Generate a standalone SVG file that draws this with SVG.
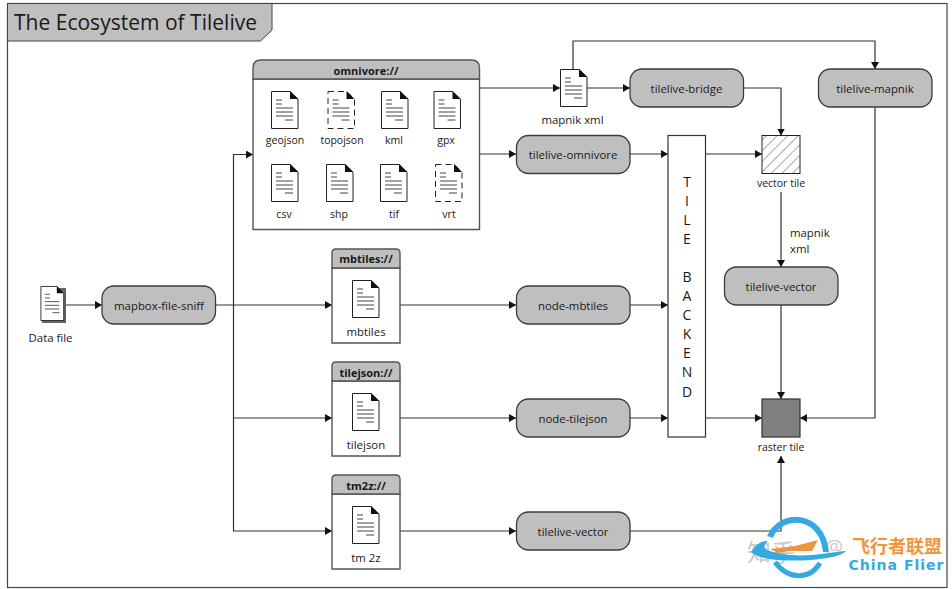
<svg xmlns="http://www.w3.org/2000/svg" width="952" height="589" viewBox="0 0 952 589">
<style>
text{font-family:"Open Sans","Noto Sans","DejaVu Sans",sans-serif;font-size:11.4px;fill:#1a1a1a;text-anchor:middle;dominant-baseline:central}
.head{font-weight:700;font-size:11px}
.sm{font-size:10.5px}
.bk{font-size:14px}
.proc{fill:#bfbfbf;stroke:#3c3c3c;stroke-width:1.3}
.box{fill:#fff;stroke:#555;stroke-width:1.4}
.hd{fill:#bfbfbf;stroke:#555;stroke-width:1.4}
.c{fill:none;stroke:#333;stroke-width:1.2;marker-end:url(#a)}
.pl{fill:none;stroke:#444;stroke-width:1}
</style>
<defs>
<marker id="a" markerUnits="userSpaceOnUse" markerWidth="8" markerHeight="8" refX="7" refY="4" orient="auto"><path d="M0 0L7 4L0 8Z" fill="#111"/></marker>
<pattern id="h" patternUnits="userSpaceOnUse" width="7.500" height="7.500" patternTransform="rotate(45)"><rect width="7.500" height="7.500" fill="#fff"/><path d="M0 0V7.500" stroke="#666" stroke-width="1.100"/></pattern>
<g id="lines"><path class="pl" d="M5 9H11M5 13H11M5 17H22M5 21H22M5 25H22M14 29H22"/><path d="M19 0L27 8H19Z" fill="#111"/></g>
<g id="doc"><path d="M0.500 0.500H19L27 8V37.500H0.500Z" fill="#fff" stroke="#222" stroke-width="1"/><use href="#lines"/></g>
<g id="dash"><path d="M0.500 0.500H19L27 8V37.500H0.500Z" fill="#fff" stroke="#222" stroke-width="1" stroke-dasharray="6 4"/><use href="#lines"/></g>
</defs>
<rect width="952" height="589" fill="#fff"/>
<rect id="frame" x="7.500" y="3.500" width="939.500" height="584" fill="#fff" stroke="#444" stroke-width="1.200"/>
<g id="title"><path d="M7.500 3.500H272V30L260.500 41H7.500Z" fill="#bfbfbf" stroke="#444" stroke-width="1"/><text x="14" y="22" style="font-size:21px;text-anchor:start" textLength="243">The Ecosystem of Tilelive</text></g>
<g id="connectors">
<path class="c" d="M64 305H102"/>
<path class="c" d="M215.500 305H332"/>
<path class="c" d="M233.500 305V154.500H253"/>
<path class="c" d="M233.500 305V418H332"/>
<path class="c" d="M233.500 418V531H332"/>
<path class="c" d="M479.500 88H560"/>
<path class="c" d="M573 69V41H875V69"/>
<path class="c" d="M587 88H630"/>
<path class="c" d="M743 88H781V135.500"/>
<path class="c" d="M479.500 154H516"/>
<path class="c" d="M630 154H668"/>
<path class="c" d="M705.500 154H762"/>
<path class="c" d="M781 192V267"/>
<path class="c" d="M781 305V399"/>
<path class="c" d="M875 107V418H800"/>
<path class="c" d="M705.500 418H762"/>
<path class="c" d="M400 305H516"/>
<path class="c" d="M630 305H668"/>
<path class="c" d="M400 418H516"/>
<path class="c" d="M630 418H668"/>
<path class="c" d="M400 531H516"/>
<path class="c" d="M630 531H781V456"/>
</g>
<g id="omnivore">
<path class="box" d="M253 79H479.500V229.500H253Z"/>
<path class="hd" d="M253 79V68Q253 60 261 60H471.500Q479.500 60 479.500 68V79Z"/>
<text class="head" x="366" y="70">omnivore://</text>
<use href="#doc" x="271" y="91"/><text class="sm" x="285" y="140">geojson</text>
<use href="#dash" x="327.500" y="91"/><text class="sm" x="342" y="140">topojson</text>
<use href="#doc" x="381" y="91"/><text class="sm" x="394" y="140">kml</text>
<use href="#doc" x="433.500" y="91"/><text class="sm" x="446" y="140">gpx</text>
<use href="#doc" x="271" y="164"/><text class="sm" x="284" y="214">csv</text>
<use href="#doc" x="326" y="164"/><text class="sm" x="339" y="214">shp</text>
<use href="#doc" x="380" y="164"/><text class="sm" x="394" y="214">tif</text>
<use href="#dash" x="435" y="164"/><text class="sm" x="449" y="214">vrt</text>
</g>
<g id="mbtiles"><path class="box" d="M332 268H400V343H332Z"/><path class="hd" d="M332 268V253Q332 249 336 249H396Q400 249 400 253V268Z"/><text class="head" x="366" y="258">mbtiles://</text><use href="#doc" x="352" y="280"/><text x="366" y="331">mbtiles</text></g>
<g id="tilejson"><path class="box" d="M332 381H400V456H332Z"/><path class="hd" d="M332 381V366Q332 362 336 362H396Q400 362 400 366V381Z"/><text class="head" x="366" y="372">tilejson://</text><use href="#doc" x="352" y="393"/><text x="366" y="444">tilejson</text></g>
<g id="tm2z"><path class="box" d="M332 494H400V569H332Z"/><path class="hd" d="M332 494V479Q332 475 336 475H396Q400 475 400 479V494Z"/><text class="head" x="366" y="485">tm2z://</text><use href="#doc" x="352" y="506"/><text x="366" y="557">tm 2z</text></g>
<g id="datafile"><rect x="42" y="288" width="24" height="35" fill="#666"/><g transform="translate(40.500 286) scale(.86 .92)"><use href="#doc"/></g><text x="50.500" y="337">Data file</text></g>
<g id="sniff"><rect class="proc" x="102" y="286" width="113.500" height="38" rx="12"/><text x="159" y="305">mapbox-file-sniff</text></g>
<g id="mapnikxml"><use href="#doc" x="560" y="69"/><text x="572.500" y="119">mapnik xml</text></g>
<g id="bridge"><rect class="proc" x="630" y="69" width="113.500" height="38" rx="12"/><text x="686.500" y="88">tilelive-bridge</text></g>
<g id="mapnik"><rect class="proc" x="818.500" y="69" width="113.500" height="38" rx="12"/><text x="875" y="88">tilelive-mapnik</text></g>
<g id="omnivoreproc"><rect class="proc" x="516.500" y="135.500" width="113.500" height="38" rx="12"/><text x="573" y="154">tilelive-omnivore</text></g>
<g id="nodembtiles"><rect class="proc" x="516.500" y="286" width="113.500" height="38" rx="12"/><text x="573" y="305">node-mbtiles</text></g>
<g id="nodetilejson"><rect class="proc" x="516.500" y="399" width="113.500" height="38" rx="12"/><text x="573" y="418">node-tilejson</text></g>
<g id="vector2"><rect class="proc" x="516.500" y="512" width="113.500" height="38" rx="12"/><text x="573" y="531">tilelive-vector</text></g>
<g id="vector1"><rect class="proc" x="724.500" y="267" width="113.500" height="38" rx="12"/><text x="781" y="286">tilelive-vector</text></g>
<g id="backend"><rect x="668" y="135.500" width="37.500" height="301.500" fill="#fff" stroke="#333" stroke-width="1.200"/>
<text class="bk" x="687" y="181">T</text><text class="bk" x="687" y="200">I</text><text class="bk" x="687" y="219">L</text><text class="bk" x="687" y="238">E</text><text class="bk" x="687" y="276">B</text><text class="bk" x="687" y="295">A</text><text class="bk" x="687" y="314">C</text><text class="bk" x="687" y="333">K</text><text class="bk" x="687" y="352">E</text><text class="bk" x="687" y="371">N</text><text class="bk" x="687" y="391">D</text></g>
<g id="vectortile"><rect x="762" y="135.500" width="38" height="38" fill="url(#h)" stroke="#222" stroke-width="1"/><text class="sm" x="781" y="183">vector tile</text></g>
<text x="790" y="232" style="text-anchor:start">mapnik</text><text x="790" y="248" style="text-anchor:start">xml</text>
<g id="rastertile"><rect x="762" y="399" width="38" height="38" fill="#808080" stroke="#333" stroke-width="1.200"/><text class="sm" x="781" y="447">raster tile</text></g>
<g id="watermark">
<text x="771" y="550" style="font-size:24px;fill:#aaa;font-family:'Noto Sans CJK SC',sans-serif" opacity=".6">知乎</text>
<text x="834" y="546" style="font-size:20px;fill:#aaa" opacity=".6">@</text>
<path d="M770 537C780 512 822 512 826 552" fill="none" stroke="#35a9e2" stroke-width="6"/>
<path d="M751 552C758 541 765 541 768 541C760 548 765 552 790 555C815 557 835 551 846 551C838 562 762 565 751 552Z" fill="#35a9e2"/>
<path d="M775 562C788 580 810 580 820 563" fill="none" stroke="#35a9e2" stroke-width="5"/>
<path d="M770 549L795 546L818 540L812 551L790 551L778 553Z" fill="#f0953e"/>
<text x="897" y="545" style="font-size:18px;font-weight:700;fill:#f0953e;font-family:'Noto Sans CJK SC',sans-serif">飞行者联盟</text>
<text x="896" y="565" style="font-size:14px;font-weight:700;fill:#35a9e2;font-family:'DejaVu Sans',sans-serif" textLength="95">China Flier</text>
</g>
</svg>
